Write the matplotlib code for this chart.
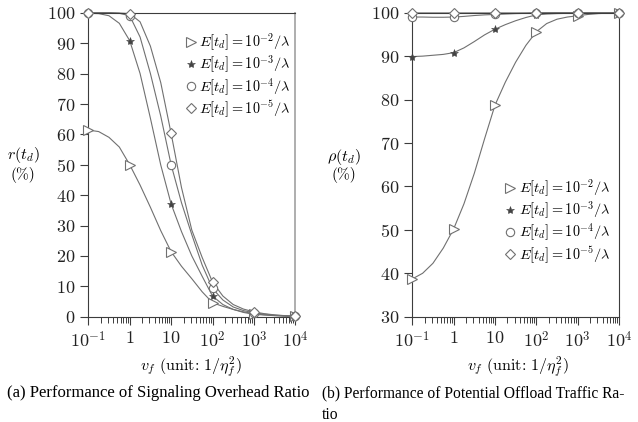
import matplotlib
matplotlib.use("Agg")
import matplotlib.pyplot as plt
from matplotlib.ticker import LogLocator, NullFormatter

plt.rcParams["font.family"] = "serif"
plt.rcParams["font.serif"] = ["cmr10"]
plt.rcParams["mathtext.fontset"] = "cm"
plt.rcParams["axes.formatter.use_mathtext"] = True

# ── data ─────────────────────────────────────────────────
# marker positions
vf = [0.1, 1, 10, 100, 1000, 10000]

r_e2 = [61.4, 50.0, 21.4, 4.6, 1.0, 0.15]
r_e3 = [99.8, 90.8, 37.1, 6.8, 0.8, 0.1]
r_e4 = [100.0, 99.0, 50.0, 9.3, 1.3, 0.15]
r_e5 = [100.0, 99.7, 60.3, 11.4, 1.6, 0.2]

rho_e2 = [38.7, 50.2, 78.7, 95.6, 99.3, 100.0]
rho_e3 = [89.9, 90.8, 96.2, 99.5, 99.9, 100.0]
rho_e4 = [99.0, 99.0, 99.6, 99.9, 100.0, 100.0]
rho_e5 = [99.95, 99.95, 99.95, 100.0, 100.0, 100.0]

# values (quarter decades)
vf_c = [0.1, 0.178, 0.316, 0.562, 1, 1.78, 3.16, 5.62, 10, 17.8, 31.6,
        56.2, 100, 178, 316, 562, 1000, 1780, 3162, 5620, 10000]

r_e2_c = [61.4, 60.9, 59.0, 55.8, 50.0, 43.3, 36.0, 28.3, 21.4, 16.6,
          12.5, 8.2, 4.6, 3.4, 2.4, 1.6, 1.0, 0.65, 0.4, 0.25, 0.15]
r_e3_c = [99.8, 99.7, 99.0, 96.5, 90.8, 80.0, 65.3, 49.9, 37.1, 28.0,
          20.0, 13.3, 6.8, 4.0, 2.4, 1.4, 0.8, 0.55, 0.35, 0.2, 0.1]
r_e4_c = [100.0, 100.0, 100.0, 99.8, 99.0, 92.0, 80.0, 66.0, 50.0, 37.5,
          27.0, 17.0, 9.3, 5.5, 3.2, 2.0, 1.3, 0.85, 0.5, 0.3, 0.15]
r_e5_c = [100.0, 100.0, 100.0, 99.9, 99.7, 97.0, 89.0, 77.0, 60.3, 42.5,
          28.5, 19.5, 11.4, 6.8, 4.0, 2.5, 1.6, 1.0, 0.6, 0.35, 0.2]

rho_e2_c = [38.7, 40.0, 42.3, 45.8, 50.2, 56.0, 63.0, 71.0, 78.7, 84.0,
            88.6, 92.5, 95.6, 97.5, 98.5, 99.0, 99.3, 99.6, 99.8, 99.9, 100.0]
rho_e3_c = [89.9, 90.0, 90.2, 90.4, 90.8, 91.9, 93.35, 94.9, 96.2, 97.25,
            98.15, 98.9, 99.5, 99.7, 99.8, 99.85, 99.9, 99.95, 100.0, 100.0,
            100.0]
rho_e4_c = [99.0, 99.0, 98.95, 98.95, 99.0, 99.15, 99.35, 99.5, 99.6, 99.7,
            99.8, 99.85, 99.9, 99.95, 100.0, 100.0, 100.0, 100.0, 100.0,
            100.0, 100.0]
rho_e5_c = [99.95] * 12 + [100.0] * 9

labels = [r"$E[t_d]=10^{-2}/\lambda$", r"$E[t_d]=10^{-3}/\lambda$",
          r"$E[t_d]=10^{-4}/\lambda$", r"$E[t_d]=10^{-5}/\lambda$"]
xtick_labels = [r"$10^{-1}$", r"$1$", r"$10$", r"$10^2$", r"$10^3$", r"$10^4$"]

line_c = "#707070"
axis_c = "#3c3c3c"
styles = [dict(marker=">", ms=7, mfc="white", mec=line_c, mew=0.8),
          dict(marker="*", ms=6, mfc="#444444", mec="#444444", mew=0.4),
          dict(marker="o", ms=6, mfc="white", mec=line_c, mew=0.8),
          dict(marker="D", ms=5, mfc="white", mec=line_c, mew=0.8)]

fig = plt.figure(figsize=(6.38, 4.22), dpi=100)
ax1 = fig.add_axes([0.1384, 0.2495, 0.3245, 0.7204])
ax2 = fig.add_axes([0.6462, 0.2495, 0.3240, 0.7204])


def draw(ax, curves, points, ylim, yticks, leg_anchor, right_c):
    for yc, yp, st in zip(curves, points, styles):
        ax.plot(vf_c, yc, color=line_c, lw=0.8, zorder=2, clip_on=False)
        ax.plot(vf, yp, ls="none", zorder=3, clip_on=False, **st)
    ax.set_xscale("log")
    ax.set_xlim(0.1, 10000)
    ax.set_ylim(*ylim)
    ax.set_xticks(vf)
    ax.set_xticklabels(xtick_labels)
    ax.xaxis.set_minor_locator(
        LogLocator(base=10, subs=[2, 3, 4, 5, 6, 7, 8, 9], numticks=100))
    ax.xaxis.set_minor_formatter(NullFormatter())
    ax.set_yticks(yticks)
    ax.tick_params(which="both", direction="out", colors=axis_c,
                   labelcolor="#222222", labelsize=13, width=0.8)
    ax.tick_params(which="major", length=6)
    ax.tick_params(which="minor", length=4, width=0.7)
    ax.tick_params(axis="y", which="minor", left=False)
    for s in ax.spines.values():
        s.set_color(axis_c)
        s.set_linewidth(0.8)
    ax.spines["right"].set_color(right_c)
    ax.spines["right"].set_linewidth(1.3 if right_c != axis_c else 0.8)
    handles = [plt.Line2D([], [], ls="none", **st) for st in styles]
    ax.legend(handles, labels, loc="upper right", bbox_to_anchor=leg_anchor,
              frameon=False, fontsize=10.3, handlelength=0.6,
              handletextpad=0.3, labelspacing=0.05, borderpad=0.1)


draw(ax1, [r_e2_c, r_e3_c, r_e4_c, r_e5_c], [r_e2, r_e3, r_e4, r_e5],
     (0, 100), range(0, 101, 10), (1.02, 0.965), "#a8a8a8")
draw(ax2, [rho_e2_c, rho_e3_c, rho_e4_c, rho_e5_c],
     [rho_e2, rho_e3, rho_e4, rho_e5],
     (30, 100), range(30, 101, 10), (1.0, 0.485), axis_c)

# y labels, horizontal like the LaTeX figure
fig.text(0.036, 0.633, r"$r(t_d)$", ha="center", va="center", fontsize=11.5)
fig.text(0.036, 0.586, "(%)", ha="center", va="center", fontsize=11)
fig.text(0.539, 0.628, r"$\rho(t_d)$", ha="center", va="center", fontsize=11.5)
fig.text(0.539, 0.586, "(%)", ha="center", va="center", fontsize=11)

# x labels
for xc in (0.300, 0.812):
    fig.text(xc, 0.131, r"$v_f$ (unit: $1/\eta_f^2$)", ha="center",
             va="center", fontsize=11.5)

# captions
fig.text(0.011, 0.068, "(a) Performance of Signaling Overhead Ratio",
         ha="left", va="center", fontsize=12, family="Liberation Serif")
fig.text(0.505, 0.068, "(b) Performance of Potential Offload Traffic Ra-",
         ha="left", va="center", fontsize=11.2, family="Liberation Serif")
fig.text(0.505, 0.017, "tio", ha="left", va="center", fontsize=11.2,
         family="Liberation Serif")

fig.savefig("out.png", dpi=100)
